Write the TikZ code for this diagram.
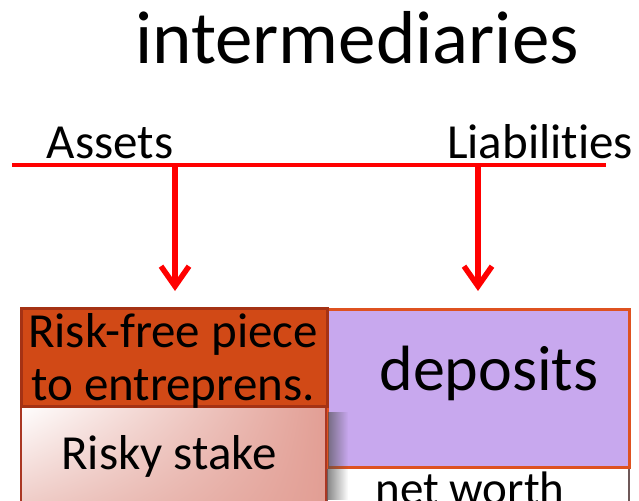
\documentclass[tikz,border=0pt]{standalone}
\usepackage{fontspec}
\setmainfont[Ligatures=NoCommon]{Carlito}
\usetikzlibrary{arrows.meta,fadings,shadings}
\definecolor{arrred}{RGB}{255,0,0}
\definecolor{rfill}{RGB}{209,73,22}
\definecolor{rborder}{RGB}{165,50,20}
\definecolor{purp}{RGB}{200,168,238}
\definecolor{purpborder}{RGB}{222,82,32}
\definecolor{nwborder}{RGB}{110,88,88}
\definecolor{rsborder}{RGB}{170,55,35}
\definecolor{pinkA}{RGB}{226,158,148}
\definecolor{pinkB}{RGB}{236,196,190}
\tikzfading[name=shadowfade, left color=transparent!35, right color=transparent!100]
\tikzset{
  lbl/.style={anchor=base, inner sep=0pt, font=\fontsize{49}{52}\selectfont},
  bigtitle/.style={anchor=base, inner sep=0pt, font=\fontsize{75}{80}\selectfont},
  boxnode/.style={anchor=north west, inner sep=0pt, outer sep=0pt},
  redarrow/.style={draw=arrred, line width=5.5pt, -{Straight Barb[length=20pt,width=28pt,line width=5.5pt]}},
}
\begin{document}
\begin{tikzpicture}[x=1pt,y=-1pt]
\useasboundingbox (0,0) rectangle (639,500);
\clip (0,0) rectangle (639,500);
% title
\node[bigtitle] (title) at (357,64) {intermediaries};
% T-account header
\node[lbl] (assets) at (110,158) {Assets};
\node[lbl] (liab) at (540,158) {Liabilities};
\coordinate (hl) at (12,165);
\coordinate (hr) at (606,165);
\draw[arrred, line width=3.5pt] (hl) -- (hr);
\coordinate (a1s) at (175,165);
\coordinate (a1e) at (175,291);
\coordinate (a2s) at (478,165);
\coordinate (a2e) at (478,291);
\draw[redarrow] (a1s) -- (a1e);
\draw[redarrow] (a2s) -- (a2e);
% liabilities side
\node[boxnode, fill=white, draw=nwborder, line width=2pt, minimum width=302pt, minimum height=60pt] (nw) at (327,467) {};
\node[boxnode, fill=purp, draw=purpborder, line width=3pt, minimum width=302pt, minimum height=158pt] (dep) at (327,309) {};
% assets side
\shade[upper left=white, upper right=pinkA, lower left=pinkB, lower right=pinkA] (21,405) rectangle (326,520);
\node[boxnode, draw=rsborder, line width=1.5pt, minimum width=305pt, minimum height=115pt] (rs) at (21,405) {};
\node[boxnode, fill=rfill, draw=rborder, line width=3pt, minimum width=306pt, minimum height=98pt] (rf) at (21,308) {};
% shadow
\fill[black!70, path fading=shadowfade] (328,412) rectangle (348,500);
% texts
\node[lbl] (t1) at (173,347) {Risk-free piece};
\node[lbl] (t2) at (173,400) {to entreprens.};
\node[lbl, font=\fontsize{64}{68}\selectfont] (t3) at (489,390) {deposits};
\node[lbl] (t4) at (169,469) {Risky stake};
\node[lbl, font=\fontsize{47}{50}\selectfont] (t5) at (470,504) {net worth};
\end{tikzpicture}
\end{document}
